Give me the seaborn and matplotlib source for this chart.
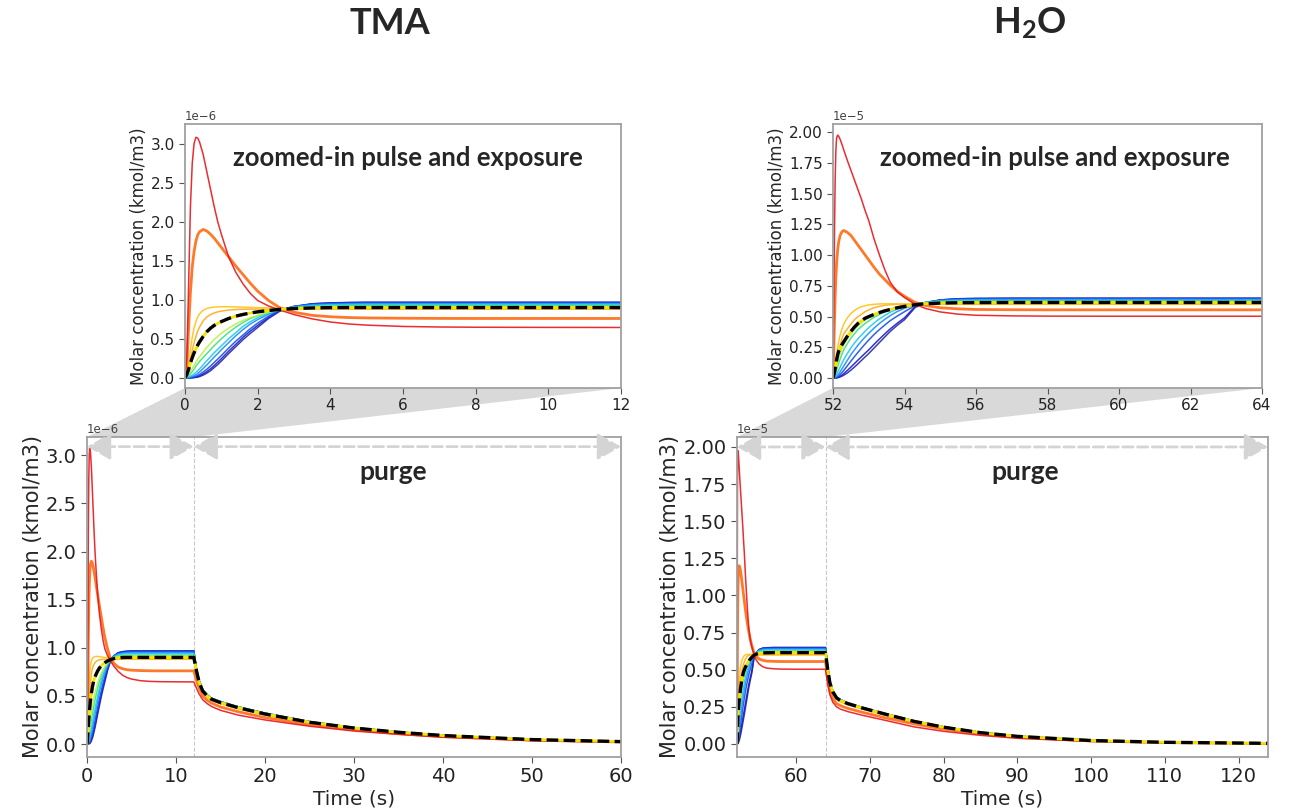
import matplotlib
matplotlib.use("Agg")
import numpy as np
import pandas as pd
import matplotlib.pyplot as plt
import seaborn as sns
from matplotlib.patches import Polygon

sns.set_style("ticks")
plt.rcParams["font.family"] = ["DejaVu Sans"]
plt.rcParams["mathtext.fontset"] = "custom"
plt.rcParams["mathtext.bf"] = "Lato:bold"
plt.rcParams["mathtext.rm"] = "Lato"

# ---------------- data ----------------
# TMA, concentration in units of 1e-6 kmol/m3
T_TMA_RISE = [0, 0.05, 0.1, 0.15, 0.2, 0.25, 0.3, 0.35, 0.4, 0.5, 0.6, 0.7, 0.8, 0.9, 1.0,
              1.2, 1.4, 1.6, 1.8, 2.0, 2.3, 2.6, 3.0, 3.5, 4.0, 4.5, 5.0, 6.0, 7.0, 8.0, 10.0, 12.0]
T_TMA_PURGE = [12.3, 12.6, 13.0, 13.5, 14.0, 15, 17, 20, 25, 30, 35, 40, 50, 60]

TMA_RISE = {
    "red":      [0, 0.25, 1.2, 2.2, 2.75, 3.0, 3.08, 3.07, 3.02, 2.86, 2.64, 2.42, 2.2, 2.0, 1.84, 1.55, 1.35, 1.2, 1.08, 0.99, 0.92, 0.87, 0.81, 0.755, 0.715, 0.69, 0.675, 0.658, 0.651, 0.648, 0.646, 0.645],
    "orange":   [0, 0.15, 0.65, 1.1, 1.42, 1.62, 1.75, 1.83, 1.87, 1.9, 1.88, 1.84, 1.79, 1.73, 1.67, 1.55, 1.43, 1.32, 1.21, 1.11, 0.99, 0.9, 0.84, 0.8, 0.782, 0.772, 0.767, 0.763, 0.761, 0.76, 0.76, 0.76],
    "gold1":    [0, 0.05, 0.18, 0.36, 0.52, 0.64, 0.72, 0.78, 0.82, 0.865, 0.888, 0.9, 0.906, 0.909, 0.91, 0.91, 0.908, 0.905, 0.902, 0.899, 0.895, 0.891, 0.888, 0.886, 0.885, 0.885, 0.885, 0.885, 0.885, 0.885, 0.885, 0.885],
    "gold2":    [0, 0.03, 0.11, 0.23, 0.35, 0.45, 0.53, 0.6, 0.65, 0.73, 0.78, 0.81, 0.83, 0.845, 0.855, 0.868, 0.875, 0.878, 0.88, 0.88, 0.88, 0.88, 0.88, 0.88, 0.88, 0.88, 0.88, 0.88, 0.88, 0.88, 0.88, 0.88],
    "yg":       [0, 0.02, 0.05, 0.08, 0.12, 0.16, 0.2, 0.24, 0.27, 0.33, 0.39, 0.44, 0.49, 0.53, 0.57, 0.635, 0.69, 0.735, 0.77, 0.8, 0.84, 0.872, 0.895, 0.906, 0.91, 0.91, 0.91, 0.91, 0.91, 0.91, 0.91, 0.91],
    "green":    [0, 0.01, 0.03, 0.05, 0.08, 0.11, 0.15, 0.18, 0.21, 0.26, 0.31, 0.36, 0.41, 0.455, 0.5, 0.58, 0.65, 0.71, 0.76, 0.795, 0.838, 0.872, 0.898, 0.913, 0.92, 0.923, 0.925, 0.925, 0.925, 0.925, 0.925, 0.925],
    "cyan":     [0, 0.005, 0.012, 0.022, 0.035, 0.05, 0.07, 0.09, 0.115, 0.165, 0.22, 0.27, 0.32, 0.365, 0.41, 0.5, 0.58, 0.66, 0.72, 0.77, 0.83, 0.872, 0.905, 0.925, 0.935, 0.938, 0.94, 0.94, 0.94, 0.94, 0.94, 0.94],
    "dodger":   [0, 0, 0.005, 0.01, 0.018, 0.027, 0.04, 0.055, 0.075, 0.12, 0.165, 0.215, 0.265, 0.31, 0.36, 0.45, 0.54, 0.62, 0.69, 0.745, 0.815, 0.87, 0.912, 0.935, 0.943, 0.948, 0.95, 0.95, 0.95, 0.95, 0.95, 0.95],
    "blue":     [0, 0, 0, 0.004, 0.008, 0.013, 0.02, 0.03, 0.042, 0.075, 0.11, 0.15, 0.195, 0.24, 0.285, 0.38, 0.47, 0.55, 0.63, 0.7, 0.79, 0.865, 0.915, 0.942, 0.953, 0.958, 0.96, 0.96, 0.96, 0.96, 0.96, 0.96],
    "darkblue": [0, 0, 0, 0, 0.003, 0.006, 0.01, 0.016, 0.025, 0.05, 0.08, 0.115, 0.155, 0.2, 0.245, 0.34, 0.43, 0.52, 0.6, 0.67, 0.775, 0.86, 0.915, 0.948, 0.958, 0.963, 0.965, 0.965, 0.965, 0.965, 0.965, 0.965],
    "navy":     [0, 0, 0, 0, 0, 0.003, 0.006, 0.01, 0.016, 0.035, 0.06, 0.09, 0.13, 0.17, 0.215, 0.31, 0.4, 0.49, 0.57, 0.645, 0.76, 0.85, 0.91, 0.948, 0.96, 0.965, 0.968, 0.968, 0.968, 0.968, 0.968, 0.968],
    "mean":     [0, 0.04, 0.11, 0.19, 0.26, 0.32, 0.37, 0.42, 0.46, 0.53, 0.59, 0.635, 0.67, 0.698, 0.72, 0.76, 0.79, 0.812, 0.83, 0.845, 0.862, 0.876, 0.887, 0.895, 0.899, 0.9, 0.9, 0.9, 0.9, 0.9, 0.9, 0.9],
}
TMA_PURGE = {
    "top":    [0.78, 0.66, 0.565, 0.51, 0.475, 0.44, 0.385, 0.32, 0.232, 0.17, 0.125, 0.09, 0.047, 0.025],
    "mean":   [0.76, 0.64, 0.55, 0.5, 0.465, 0.43, 0.377, 0.312, 0.226, 0.166, 0.122, 0.088, 0.046, 0.025],
    "gold":   [0.74, 0.62, 0.535, 0.49, 0.455, 0.42, 0.366, 0.302, 0.22, 0.161, 0.118, 0.085, 0.044, 0.024],
    "orange": [0.66, 0.58, 0.5, 0.455, 0.425, 0.385, 0.335, 0.275, 0.2, 0.148, 0.108, 0.077, 0.04, 0.021],
    "red":    [0.58, 0.52, 0.46, 0.42, 0.39, 0.35, 0.3, 0.25, 0.185, 0.135, 0.1, 0.07, 0.035, 0.018],
}

# H2O, concentration in units of 1e-5 kmol/m3
T_H2O_RISE = [52.0, 52.02, 52.04, 52.06, 52.08, 52.1, 52.13, 52.16, 52.2, 52.25, 52.3, 52.4, 52.5,
              52.6, 52.7, 52.8, 52.9, 53.0, 53.15, 53.3, 53.45, 53.6, 53.8, 54.0, 54.3, 54.6,
              55.0, 55.5, 56.0, 57.0, 58.0, 60.0, 64.0]
T_H2O_PURGE = [64.3, 64.6, 65.0, 65.5, 66, 67, 69, 72, 76, 80, 85, 90, 100, 110, 124]

H2O_RISE = {
    "red":      [0, 0.55, 1.15, 1.6, 1.85, 1.95, 1.975, 1.965, 1.94, 1.9, 1.855, 1.77, 1.69, 1.61, 1.53, 1.45, 1.36, 1.28, 1.13, 1.0, 0.88, 0.78, 0.7, 0.655, 0.6, 0.565, 0.538, 0.52, 0.511, 0.506, 0.504, 0.503, 0.503],
    "orange":   [0, 0.2, 0.45, 0.66, 0.82, 0.93, 1.04, 1.11, 1.16, 1.19, 1.2, 1.185, 1.16, 1.12, 1.08, 1.04, 1.0, 0.96, 0.9, 0.845, 0.8, 0.755, 0.705, 0.665, 0.615, 0.59, 0.572, 0.563, 0.558, 0.556, 0.555, 0.555, 0.555],
    "gold1":    [0, 0.04, 0.08, 0.12, 0.16, 0.2, 0.25, 0.3, 0.35, 0.4, 0.44, 0.49, 0.525, 0.55, 0.568, 0.58, 0.589, 0.595, 0.6, 0.603, 0.604, 0.604, 0.603, 0.603, 0.602, 0.602, 0.602, 0.602, 0.602, 0.602, 0.602, 0.602, 0.602],
    "gold2":    [0, 0.025, 0.05, 0.08, 0.11, 0.14, 0.185, 0.225, 0.27, 0.32, 0.36, 0.4, 0.44, 0.475, 0.5, 0.52, 0.54, 0.555, 0.572, 0.584, 0.592, 0.597, 0.6, 0.6, 0.6, 0.6, 0.6, 0.6, 0.6, 0.6, 0.6, 0.6, 0.6],
    "yg":       [0, 0.01, 0.025, 0.045, 0.07, 0.095, 0.13, 0.16, 0.2, 0.24, 0.27, 0.32, 0.36, 0.395, 0.425, 0.45, 0.472, 0.49, 0.513, 0.532, 0.548, 0.562, 0.578, 0.59, 0.603, 0.611, 0.616, 0.619, 0.62, 0.62, 0.62, 0.62, 0.62],
    "green":    [0, 0.005, 0.015, 0.03, 0.045, 0.065, 0.095, 0.12, 0.155, 0.195, 0.23, 0.28, 0.325, 0.36, 0.395, 0.42, 0.445, 0.465, 0.495, 0.518, 0.538, 0.555, 0.573, 0.587, 0.602, 0.613, 0.62, 0.624, 0.625, 0.625, 0.625, 0.625, 0.625],
    "cyan":     [0, 0.003, 0.007, 0.013, 0.021, 0.031, 0.048, 0.066, 0.09, 0.12, 0.15, 0.2, 0.245, 0.285, 0.32, 0.352, 0.382, 0.41, 0.448, 0.482, 0.51, 0.535, 0.562, 0.581, 0.6, 0.616, 0.626, 0.631, 0.633, 0.633, 0.633, 0.633, 0.633],
    "dodger":   [0, 0.001, 0.003, 0.006, 0.01, 0.015, 0.024, 0.035, 0.052, 0.075, 0.098, 0.145, 0.19, 0.23, 0.268, 0.303, 0.335, 0.365, 0.407, 0.445, 0.478, 0.508, 0.542, 0.568, 0.596, 0.617, 0.631, 0.637, 0.639, 0.64, 0.64, 0.64, 0.64],
    "blue":     [0, 0, 0.001, 0.002, 0.004, 0.007, 0.012, 0.019, 0.03, 0.045, 0.062, 0.1, 0.138, 0.175, 0.21, 0.245, 0.278, 0.31, 0.355, 0.395, 0.432, 0.467, 0.505, 0.54, 0.59, 0.615, 0.633, 0.642, 0.644, 0.645, 0.645, 0.645, 0.645],
    "darkblue": [0, 0, 0, 0.001, 0.002, 0.003, 0.006, 0.01, 0.016, 0.025, 0.036, 0.062, 0.09, 0.118, 0.147, 0.175, 0.203, 0.23, 0.275, 0.318, 0.36, 0.4, 0.447, 0.49, 0.583, 0.615, 0.636, 0.645, 0.647, 0.648, 0.648, 0.648, 0.648],
    "navy":     [0, 0, 0, 0, 0.001, 0.002, 0.004, 0.006, 0.01, 0.016, 0.024, 0.042, 0.065, 0.09, 0.117, 0.145, 0.173, 0.2, 0.245, 0.29, 0.335, 0.38, 0.43, 0.475, 0.575, 0.61, 0.635, 0.645, 0.648, 0.65, 0.65, 0.65, 0.65],
    "mean":     [0, 0.02, 0.045, 0.075, 0.11, 0.145, 0.19, 0.22, 0.245, 0.272, 0.295, 0.34, 0.38, 0.415, 0.445, 0.468, 0.487, 0.5, 0.518, 0.533, 0.547, 0.558, 0.572, 0.583, 0.597, 0.605, 0.61, 0.613, 0.614, 0.615, 0.615, 0.615, 0.615],
}
H2O_PURGE = {
    "top":    [0.52, 0.42, 0.355, 0.315, 0.298, 0.276, 0.245, 0.205, 0.155, 0.115, 0.078, 0.052, 0.024, 0.011, 0.004],
    "mean":   [0.5, 0.41, 0.35, 0.31, 0.293, 0.272, 0.242, 0.202, 0.152, 0.113, 0.076, 0.051, 0.023, 0.011, 0.004],
    "gold":   [0.49, 0.4, 0.34, 0.3, 0.285, 0.265, 0.235, 0.195, 0.147, 0.109, 0.074, 0.049, 0.022, 0.01, 0.004],
    "orange": [0.44, 0.36, 0.305, 0.272, 0.258, 0.24, 0.213, 0.177, 0.135, 0.1, 0.068, 0.045, 0.02, 0.009, 0.003],
    "red":    [0.4, 0.33, 0.28, 0.25, 0.235, 0.218, 0.193, 0.16, 0.115, 0.085, 0.058, 0.038, 0.017, 0.008, 0.003],
}

# which purge tail each curve follows
PURGE_GROUP = {"red": "red", "orange": "orange", "gold1": "gold", "gold2": "gold",
               "yg": "mean", "green": "top", "cyan": "top", "dodger": "top",
               "blue": "top", "darkblue": "top", "navy": "top", "mean": "mean"}

COLORS = {"red": "#e8161b", "orange": "#ff6a14", "gold1": "#ffc21a", "gold2": "#ffab1a",
          "yg": "#b8f04a", "green": "#3ee07e", "cyan": "#1fc9f2", "dodger": "#1e8cff",
          "blue": "#1450f0", "darkblue": "#1c1cc8", "navy": "#2a2aa0"}
WIDTHS = {"orange": 2.0}
DRAW_ORDER = ["navy", "darkblue", "blue", "dodger", "cyan", "green", "yg",
              "gold2", "gold1", "orange", "red"]


def build_frame(t_rise, t_purge, rise, purge, scale):
    rows = []
    ts = list(t_rise) + list(t_purge)
    for name, vals in rise.items():
        cs = list(vals) + list(purge[PURGE_GROUP[name]])
        assert len(cs) == len(ts), name
        for t, c in zip(ts, cs):
            rows.append({"curve": name, "t": t, "c": c * scale})
    return pd.DataFrame(rows)


def draw_curves(ax, df):
    for name in DRAW_ORDER:
        sub = df[df["curve"] == name]
        sns.lineplot(data=sub, x="t", y="c", color=COLORS[name], lw=WIDTHS.get(name, 1.1),
                     alpha=0.9, estimator=None, sort=False, ax=ax)
    mean = df[df["curve"] == "mean"]
    sns.lineplot(data=mean, x="t", y="c", color="#f2e200", lw=2.0, estimator=None, sort=False, ax=ax)
    sns.lineplot(data=mean, x="t", y="c", color="black", lw=2.4, linestyle=(0, (3.5, 1.6)),
                 estimator=None, sort=False, ax=ax)


def style_axes(ax, labelsize, ylabsize):
    for s in ax.spines.values():
        s.set_color("#a0a0a0")
        s.set_linewidth(1.3)
    ax.tick_params(labelsize=labelsize, color="#555555", length=4, labelcolor="#222222")
    ax.ticklabel_format(axis="y", style="sci", scilimits=(0, 0))
    ax.yaxis.get_offset_text().set_fontsize(8.5)
    ax.yaxis.get_offset_text().set_color("#444444")
    ax.set_ylabel("Molar concentration (kmol/m3)", fontsize=ylabsize, labelpad=2)


def connector(fig, inset, main, x0, x1):
    inv = fig.transFigure.inverted()
    ytop = main.get_ylim()[1]
    pts = [inv.transform(inset.transAxes.transform((0, 0))),
           inv.transform(inset.transAxes.transform((1, 0))),
           inv.transform(main.transData.transform((x1, ytop))),
           inv.transform(main.transData.transform((x0, ytop)))]
    fig.patches.append(Polygon(pts, closed=True, transform=fig.transFigure,
                               facecolor="#d9d9d9", edgecolor="none", zorder=-1))


def phase_arrows(ax, x0, xm, x1, y):
    props = dict(arrowstyle="<|-|>,head_length=0.8,head_width=0.45", linestyle="--",
                 color="#d4d4d4", lw=2, mutation_scale=18, shrinkA=0, shrinkB=0)
    ax.annotate("", xy=(xm, y), xytext=(x0, y), arrowprops=props, annotation_clip=False)
    ax.annotate("", xy=(x1, y), xytext=(xm, y), arrowprops=props, annotation_clip=False)
    ax.axvline(xm, color="#c8c8c8", ls="--", lw=0.8, zorder=0)


BOLD = dict(fontweight="bold", family=["Lato", "DejaVu Sans"])

fig = plt.figure(figsize=(12.99, 8.11), dpi=100)
W, H = 1299, 811


def px_axes(l, t, r, b):
    return fig.add_axes([l / W, 1 - b / H, (r - l) / W, (b - t) / H])


ins_l = px_axes(185, 124, 621, 388)
ins_r = px_axes(833, 124, 1262, 388)
main_l = px_axes(87, 437, 621, 757)
main_r = px_axes(737, 437, 1268, 757)

df_tma = build_frame(T_TMA_RISE, T_TMA_PURGE, TMA_RISE, TMA_PURGE, 1e-6)
df_h2o = build_frame(T_H2O_RISE, T_H2O_PURGE, H2O_RISE, H2O_PURGE, 1e-5)

# TMA
for ax in (ins_l, main_l):
    draw_curves(ax, df_tma)
ins_l.set_xlim(0, 12)
ins_l.set_ylim(-0.13e-6, 3.25e-6)
ins_l.set_xticks(np.arange(0, 13, 2))
ins_l.set_yticks(np.arange(0, 3.01e-6, 0.5e-6))
main_l.set_xlim(0, 60)
main_l.set_ylim(-0.135e-6, 3.19e-6)
main_l.set_yticks(np.arange(0, 3.01e-6, 0.5e-6))
style_axes(ins_l, 11, 12)
style_axes(main_l, 14, 15)
ins_l.set_xlabel("")
main_l.set_xlabel("Time (s)", fontsize=14.5, labelpad=2)
phase_arrows(main_l, 0, 12, 60, 3.09e-6)

# H2O
for ax in (ins_r, main_r):
    draw_curves(ax, df_h2o)
ins_r.set_xlim(52, 64)
ins_r.set_ylim(-0.08e-5, 2.065e-5)
ins_r.set_xticks(np.arange(52, 65, 2))
ins_r.set_yticks(np.arange(0, 2.01e-5, 0.25e-5))
main_r.set_xlim(52, 124)
main_r.set_ylim(-0.088e-5, 2.067e-5)
main_r.set_xticks(np.arange(60, 121, 10))
main_r.set_yticks(np.arange(0, 2.01e-5, 0.25e-5))
style_axes(ins_r, 11, 12)
style_axes(main_r, 14, 15)
ins_r.set_xlabel("")
main_r.set_xlabel("Time (s)", fontsize=14.5, labelpad=2)
phase_arrows(main_r, 52, 64, 124, 2.0e-5)

connector(fig, ins_l, main_l, 0, 12)
connector(fig, ins_r, main_r, 52, 64)

for ax, x in ((ins_l, 0.511), (ins_r, 0.517)):
    ax.text(x, 0.87, "zoomed-in pulse and exposure", transform=ax.transAxes,
            ha="center", va="center", fontsize=18.5, **BOLD)
for ax, x in ((main_l, 0.573), (main_r, 0.542)):
    ax.text(x, 0.89, "purge", transform=ax.transAxes, ha="center", va="center",
            fontsize=19, **BOLD)

fig.text(390 / W, 1 - 23 / H, "TMA", ha="center", va="center", fontsize=26, **BOLD)
fig.text(1030 / W, 1 - 23 / H, r"$\mathbf{H_2O}$", ha="center", va="center", fontsize=26)

fig.savefig("out.png", dpi=100)
